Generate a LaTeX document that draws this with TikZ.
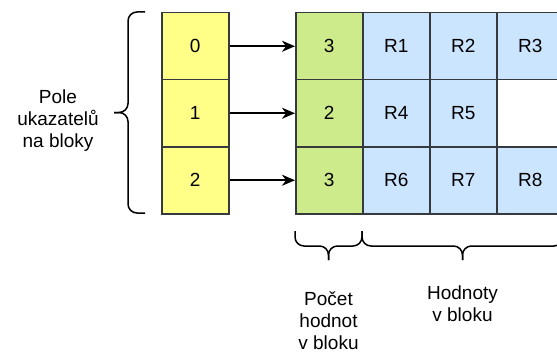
\documentclass[tikz,border=0pt]{standalone}
\usepackage{fontspec}
\setmainfont{Liberation Sans}
\usetikzlibrary{arrows.meta}
\definecolor{ptrfill}{HTML}{FFFF88}
\definecolor{cntfill}{HTML}{CDEB8B}
\definecolor{valfill}{HTML}{CCE5FF}
\definecolor{cellline}{HTML}{36393D}
\begin{document}
\begin{tikzpicture}[x=1pt,y=-1pt,
  cell/.style={draw=cellline,line width=1.5pt,minimum width=67pt,minimum height=67pt,
    inner sep=0pt,anchor=north west,font=\fontsize{19}{22}\selectfont},
  ptr/.style={cell,fill=ptrfill},
  cnt/.style={cell,fill=cntfill},
  val/.style={cell,fill=valfill},
  link/.style={line width=1.6pt,-{Stealth[length=13pt,width=11pt,inset=4pt]}},
  curly/.style={line width=1.5pt,rounded corners=9pt},
  label/.style={align=center,font=\fontsize{19}{22}\selectfont}]
\useasboundingbox (0,0) rectangle (557,353);
\begin{scope}
\clip (0,0) rectangle (557,353);
% pointer array
\node[ptr] (p0) at (161,12) {0};
\node[ptr] (p1) at (161,79) {1};
\node[ptr] (p2) at (161,146) {2};
% block headers (value counts)
\node[cnt] (c0) at (295,12) {3};
\node[cnt] (c1) at (295,79) {2};
\node[cnt] (c2) at (295,146) {3};
% block values
\node[val] (r1) at (362,12) {R1};
\node[val] (r2) at (429,12) {R2};
\node[val] (r3) at (496,12) {R3};
\node[val] (r4) at (362,79) {R4};
\node[val] (r5) at (429,79) {R5};
\node[val] (r6) at (362,146) {R6};
\node[val] (r7) at (429,146) {R7};
\node[val] (r8) at (496,146) {R8};
% pointers
\draw[link] (p0.east) -- (c0.west);
\draw[link] (p1.east) -- (c1.west);
\draw[link] (p2.east) -- (c2.west);
% left brace
\coordinate (lb) at (114,112.5);
\draw[curly] (145,12) -- (128,12) -- (128,112.5) -- (lb);
\draw[curly] (145,213) -- (128,213) -- (128,112.5) -- (lb);
% bottom braces
\coordinate (bc) at (328.5,260);
\draw[curly] (295,231) -- (295,246) -- (328.5,246) -- (bc);
\draw[curly] (362,231) -- (362,246) -- (328.5,246) -- (bc);
\coordinate (bv) at (462.5,260);
\draw[curly] (362,231) -- (362,246) -- (462.5,246) -- (bv);
\draw[curly] (563,231) -- (563,246) -- (462.5,246) -- (bv);
% labels
\node[label] (lp) at (58,121) {Pole\\ukazatelů\\na bloky};
\node[label] (lc) at (328.5,321) {Počet\\hodnot\\v bloku};
\node[label] (lv) at (462.5,304) {Hodnoty\\v bloku};
\end{scope}
\end{tikzpicture}
\end{document}
